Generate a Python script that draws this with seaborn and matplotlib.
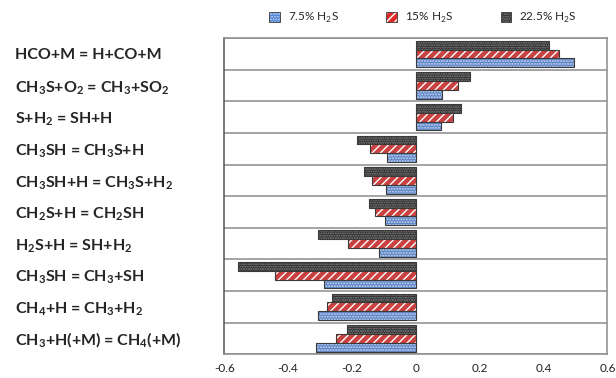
import pandas as pd
import matplotlib as mpl
import matplotlib.pyplot as plt
import seaborn as sns
import numpy as np
from matplotlib.patches import Patch

# reactions, top to bottom
reactions = [
    r"HCO+M = H+CO+M",
    r"CH$_\mathbf{3}$S+O$_\mathbf{2}$ = CH$_\mathbf{3}$+SO$_\mathbf{2}$",
    r"S+H$_\mathbf{2}$ = SH+H",
    r"CH$_\mathbf{3}$SH = CH$_\mathbf{3}$S+H",
    r"CH$_\mathbf{3}$SH+H = CH$_\mathbf{3}$S+H$_\mathbf{2}$",
    r"CH$_\mathbf{2}$S+H = CH$_\mathbf{2}$SH",
    r"H$_\mathbf{2}$S+H = SH+H$_\mathbf{2}$",
    r"CH$_\mathbf{3}$SH = CH$_\mathbf{3}$+SH",
    r"CH$_\mathbf{4}$+H = CH$_\mathbf{3}$+H$_\mathbf{2}$",
    r"CH$_\mathbf{3}$+H(+M) = CH$_\mathbf{4}$(+M)",
]
h2s_75 = [0.495, 0.083, 0.079, -0.090, -0.093, -0.097, -0.115, -0.287, -0.306, -0.313]
h2s_15 = [0.449, 0.131, 0.118, -0.144, -0.137, -0.128, -0.211, -0.441, -0.277, -0.251]
h2s_225 = [0.418, 0.169, 0.143, -0.185, -0.163, -0.147, -0.306, -0.556, -0.261, -0.214]
series = ["7.5% H$_2$S", "15% H$_2$S", "22.5% H$_2$S"]
xticks = [-0.6, -0.4, -0.2, 0, 0.2, 0.4, 0.6]

colors = {series[0]: "#4a7fd4", series[1]: "#e02a2a", series[2]: "#262626"}
hatches = {series[0]: "......", series[1]: "////", series[2]: "......."}
hcolors = {series[0]: "#c9daf5", series[1]: "white", series[2]: "#8a8a8a"}

df = pd.DataFrame({
    "reaction": reactions * 3,
    "value": h2s_75 + h2s_15 + h2s_225,
    "series": [series[0]] * 10 + [series[1]] * 10 + [series[2]] * 10,
})

sns.set_style("white")
plt.rcParams["font.family"] = ["Lato", "DejaVu Sans"]
plt.rcParams["mathtext.fontset"] = "custom"
plt.rcParams["mathtext.rm"] = "Lato"
plt.rcParams["mathtext.bf"] = "Lato:bold"
plt.rcParams["hatch.linewidth"] = 1.0


def set_hc(p, c):
    if hasattr(p, "set_hatchcolor"):
        p.set_hatchcolor(c)
    else:
        p._hatch_color = mpl.colors.to_rgba(c)


fig = plt.figure(figsize=(6.16, 3.78), dpi=100)
ax = fig.add_axes([0.364, 0.063, 0.622, 0.836])

hue_order = [series[2], series[1], series[0]]
sns.barplot(data=df, x="value", y="reaction", hue="series", hue_order=hue_order,
            order=reactions, palette=colors, width=0.84, orient="h",
            legend=False, ax=ax, zorder=3)

for cont, s in zip(ax.containers, hue_order):
    for p in cont:
        p.set_hatch(hatches[s])
        p.set_edgecolor("#3a3a3a")
        p.set_linewidth(0.8)
        set_hc(p, hcolors[s])

ax.set_xlim(-0.6, 0.6)
ax.set_xticks(xticks)
ax.set_xticklabels(["-0.6", "-0.4", "-0.2", "0", "0.2", "0.4", "0.6"])
ax.set_ylim(len(reactions) - 0.5, -0.5)
ax.set_yticks(np.arange(len(reactions)))
ax.set_yticklabels(reactions, ha="left", fontsize=11.5, fontweight="bold")
ax.set_yticks(np.arange(len(reactions) + 1) - 0.5, minor=True)
ax.grid(axis="y", which="minor", color="#8c8c8c", linewidth=1.1, zorder=1)
ax.tick_params(axis="y", which="both", length=0, pad=151)
ax.tick_params(axis="x", length=3, color="#888888", labelsize=8.5, labelcolor="#222222")
ax.set_xlabel("")
ax.set_ylabel("")
for side, sp in ax.spines.items():
    sp.set_color("#8c8c8c")
    sp.set_linewidth(1.1)
ax.spines["left"].set_color("#555555")

handles = []
for s in series:
    h = Patch(facecolor=colors[s], hatch=hatches[s], edgecolor="#3a3a3a", linewidth=0.6)
    set_hc(h, hcolors[s])
    handles.append(h)
leg = fig.legend(handles, series, loc="center", bbox_to_anchor=(0.687, 0.952), ncol=3,
                 frameon=False, fontsize=8.5, handlelength=0.9, handleheight=0.9,
                 columnspacing=4.0, handletextpad=0.7)

fig.savefig("out.png", dpi=100)
